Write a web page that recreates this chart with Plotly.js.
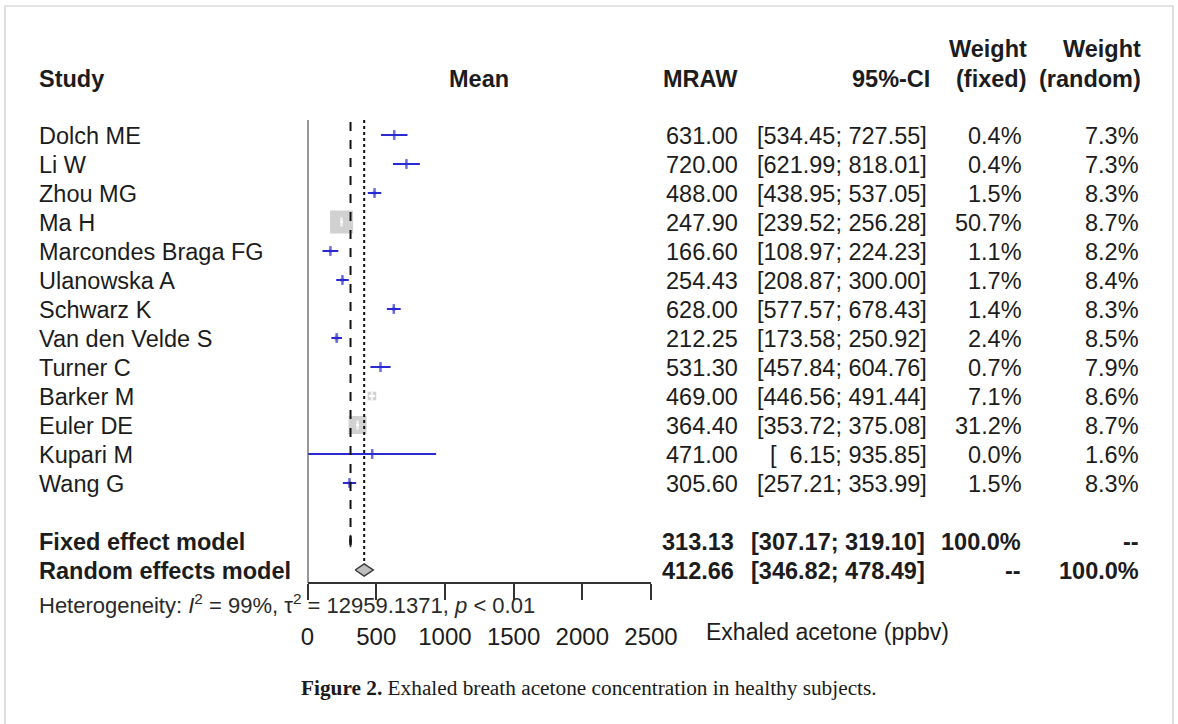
<!DOCTYPE html>
<html>
<head>
<meta charset="utf-8">
<script src="https://cdn.plot.ly/plotly-3.0.1.min.js"></script>
<style>
html,body{margin:0;padding:0;background:#fff;}
#chart{width:1178px;height:724px;}
</style>
</head>
<body>
<div id="chart"></div>
<script>
// ---------- data ----------
const studies = ["Dolch ME","Li W","Zhou MG","Ma H","Marcondes Braga FG","Ulanowska A","Schwarz K",
  "Van den Velde S","Turner C","Barker M","Euler DE","Kupari M","Wang G"];
const mraw   = [631.00,720.00,488.00,247.90,166.60,254.43,628.00,212.25,531.30,469.00,364.40,471.00,305.60];
const lower  = [534.45,621.99,438.95,239.52,108.97,208.87,577.57,173.58,457.84,446.56,353.72,6.15,257.21];
const upper  = [727.55,818.01,537.05,256.28,224.23,300.00,678.43,250.92,604.76,491.44,375.08,935.85,353.99];
const wFixed = [0.4,0.4,1.5,50.7,1.1,1.7,1.4,2.4,0.7,7.1,31.2,0.0,1.5];
const wRandom= [7.3,7.3,8.3,8.7,8.2,8.4,8.3,8.5,7.9,8.6,8.7,1.6,8.3];

const pooledLabels = ["Fixed effect model","Random effects model"];
const pooledMean   = [313.13,412.66];
const pooledLower  = [307.17,346.82];
const pooledUpper  = [319.10,478.49];
const pooledWFixed = ["100.0%","--"];
const pooledWRandom= ["--","100.0%"];

const headers = {study:"Study", mean:"Mean", mraw:"MRAW", ci:"95%-CI",
  wf1:"Weight", wf2:"(fixed)", wr1:"Weight", wr2:"(random)"};
const xTicks = [0,500,1000,1500,2000,2500];
const hetText = "Heterogeneity: <i>I</i><sup>2</sup> = 99%, τ<sup>2</sup> = 12959.1371, <i>p</i> < 0.01";
const xLabel = "Exhaled acetone (ppbv)";
const caption = "<b>Figure 2.</b> Exhaled breath acetone concentration in healthy subjects.";

// ---------- layout constants ----------
const W = 1178, H = 724;
const px = v => v / W;            // horizontal pixel -> paper
const X0 = 307.5, X1 = 651;       // plot area in px
const xMax = 2500;
const pxPerUnit = (X1 - X0) / xMax;
const rowPx = 29, row1Px = 135;
const yTop = 1 - row1Px / rowPx;
const yBot = yTop + H / rowPx;
const rowOfPx = p => yTop + p / rowPx;
const axisPx = 583;
const blue = "#2a2ad4";
const txt = "#1c1c1c";
const F = "Liberation Sans, Arial, sans-serif";
const fs = 23.5;

const rows = studies.map((_, i) => i + 1);
const pooledRows = [15, 16];
const maxW = Math.max(...wFixed);
const sqSize = wFixed.map(w => 23 * Math.sqrt(w / maxW));
const inside = sqSize.map((s, i) => s > (upper[i] - lower[i]) * pxPerUnit);

const fmt = v => v.toFixed(2);
const ciStr = (l, u) => { let a = fmt(l); while (a.length < 6) a = "\u00a0\u00a0" + a; return "[" + a + "; " + fmt(u) + "]"; };
const pct = v => v.toFixed(1) + "%";

// ---------- traces ----------
const traces = [];
traces.push({type:"scatter", mode:"markers", x:mraw, y:rows, hoverinfo:"skip",
  marker:{symbol:"square", size:sqSize, color:"#BEBEBE", line:{width:0}}});

function ciTrace(flag, color){
  const xs=[], ys=[];
  rows.forEach((r,i)=>{ if(inside[i]===flag){ xs.push(lower[i],upper[i],null); ys.push(r,r,null);} });
  return {type:"scatter", mode:"lines", x:xs, y:ys, hoverinfo:"skip", line:{color:color, width:2}};
}
traces.push(ciTrace(false, blue));
traces.push(ciTrace(true, "#ffffff"));
traces.push({type:"scatter", mode:"markers", x:mraw, y:rows, hoverinfo:"skip",
  marker:{symbol:"line-ns", size:inside.map(f=>f?6.5:7), color:"rgba(0,0,0,0)",
    line:{width:2.5, color:inside.map(f=>f?"#ffffff":blue)}}});

pooledRows.forEach((r,k)=>{
  const h = 0.21;
  traces.push({type:"scatter", mode:"lines", fill:"toself", hoverinfo:"skip",
    x:[pooledLower[k], pooledMean[k], pooledUpper[k], pooledMean[k], pooledLower[k]],
    y:[r, r-h, r, r+h, r], fillcolor:"#BEBEBE", line:{color:"#3a3a3a", width:1.5}});
});

// ---------- shapes ----------
const shapes = [
  {type:"line", xref:"x", yref:"y", x0:0, x1:0, y0:rowOfPx(120), y1:rowOfPx(axisPx), line:{color:"#333", width:2}},
  {type:"line", xref:"x", yref:"y", x0:pooledMean[0], x1:pooledMean[0], y0:rowOfPx(122), y1:rowOfPx(548), line:{color:"#111", width:2, dash:"dash"}},
  {type:"line", xref:"x", yref:"y", x0:pooledMean[1], x1:pooledMean[1], y0:rowOfPx(120), y1:rowOfPx(563), line:{color:"#111", width:2, dash:"dot"}},
  {type:"rect", xref:"paper", yref:"paper", x0:px(5), x1:px(1173), y0:-0.02, y1:1-6/H, line:{color:"#c8c8c8", width:1.2}, fillcolor:"rgba(0,0,0,0)"}
];

// ---------- annotations ----------
const ann = [];
function A(text, x, y, anchor, opts){
  ann.push(Object.assign({text:text, xref:"paper", yref:"y", x:x, y:y, xanchor:anchor, yanchor:"middle",
    showarrow:false, font:{family:F, size:fs, color:txt}}, opts||{}));
}
const hdrY = rowOfPx(79), hdr1Y = rowOfPx(49);
A("<b>"+headers.study+"</b>", px(37), hdrY, "left");
ann.push({text:"<b>"+headers.mean+"</b>", xref:"x", yref:"y", x:xMax/2, y:hdrY, xanchor:"center", yanchor:"middle", showarrow:false, font:{family:F,size:fs,color:txt}});
A("<b>"+headers.mraw+"</b>", px(740), hdrY, "right");
A("<b>"+headers.ci+"</b>", px(932), hdrY, "right");
A("<b>"+headers.wf1+"</b>", px(1029), hdr1Y, "right");
A("<b>"+headers.wf2+"</b>", px(1029), hdrY, "right");
A("<b>"+headers.wr1+"</b>", px(1143), hdr1Y, "right");
A("<b>"+headers.wr2+"</b>", px(1143), hdrY, "right");

studies.forEach((s,i)=>{
  const y = rows[i] + 0.05;
  A(s, px(37), y, "left");
  A(fmt(mraw[i]), px(740), y, "right");
  A(ciStr(lower[i], upper[i]), px(929), y, "right");
  A(pct(wFixed[i]), px(1024), y, "right");
  A(pct(wRandom[i]), px(1141), y, "right");
});
pooledRows.forEach((r,k)=>{
  const y = r + 0.05;
  A("<b>"+pooledLabels[k]+"</b>", px(37), y, "left");
  A("<b>"+fmt(pooledMean[k])+"</b>", px(736), y, "right");
  A("<b>"+ciStr(pooledLower[k], pooledUpper[k])+"</b>", px(927), y, "right");
  A("<b>"+pooledWFixed[k]+"</b>", px(1023), y, "right");
  A("<b>"+pooledWRandom[k]+"</b>", px(1141), y, "right");
});
A(hetText, px(37), rowOfPx(604), "left", {font:{family:F, size:22, color:"#2a2a2a"}});
A(xLabel, px(704), rowOfPx(632), "left", {font:{family:F, size:23, color:txt}});
ann.push({text:caption, xref:"paper", yref:"paper", x:px(589), y:1-688/H, xanchor:"center", yanchor:"middle",
  showarrow:false, font:{family:"Liberation Serif, Times New Roman, serif", size:21.3, color:"#1a1a1a"}});

const layout = {
  width:W, height:H, margin:{l:0,r:0,t:0,b:0}, paper_bgcolor:"#fff", plot_bgcolor:"rgba(0,0,0,0)",
  showlegend:false,
  xaxis:{domain:[px(X0), px(X1)], range:[0, xMax], anchor:"free", position:1-axisPx/H,
    showgrid:false, zeroline:false, showline:true, linecolor:"#333", linewidth:2,
    ticks:"outside", ticklen:16, tickwidth:2, tickcolor:"#333", tickvals:xTicks, ticktext:xTicks.map(String),
    ticklabelstandoff:16, tickfont:{family:F, size:24, color:txt}, fixedrange:true},
  yaxis:{domain:[0,1], range:[yBot, yTop], visible:false, showgrid:false, zeroline:false, fixedrange:true},
  shapes:shapes, annotations:ann
};
Plotly.newPlot("chart", traces, layout, {displayModeBar:false, staticPlot:true});
</script>
</body>
</html>
